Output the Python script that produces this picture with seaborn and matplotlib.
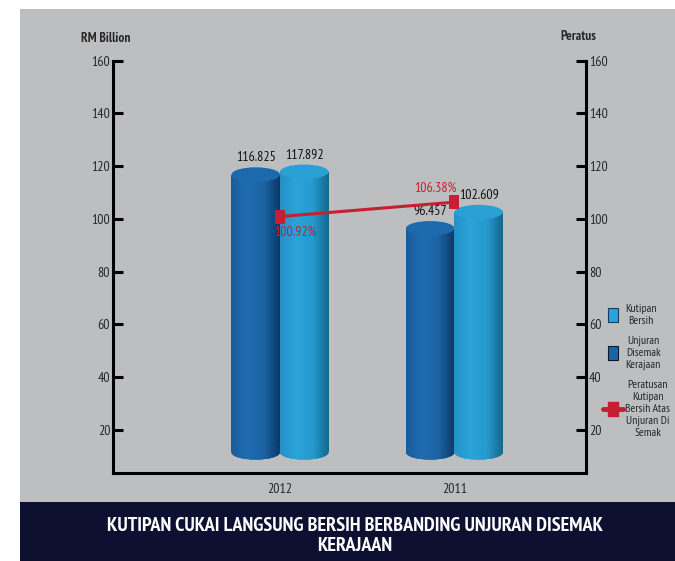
import numpy as np
import pandas as pd
import matplotlib
matplotlib.use("Agg")
import matplotlib.pyplot as plt
import seaborn as sns
from matplotlib import font_manager
from matplotlib.colors import LinearSegmentedColormap
from matplotlib.patches import Ellipse, Rectangle
from matplotlib.lines import Line2D

# data
years = ["2012", "2011"]
unjuran = [116.825, 96.457]     # Unjuran Disemak Kerajaan (RM bilion)
kutipan = [117.892, 102.609]    # Kutipan Bersih (RM bilion)
peratus = [100.92, 106.38]      # Peratusan kutipan atas unjuran (%)
yticks = [20, 40, 60, 80, 100, 120, 140, 160]

sns.set_theme(style="white")
names = {f.name for f in font_manager.fontManager.ttflist}
font = "Liberation Sans"
for cand in ["PT Sans Narrow", "Roboto Condensed", "Barlow Semi Condensed",
             "Asap Condensed", "Liberation Sans Narrow", "Open Sans Condensed"]:
    if cand in names:
        font = cand
        break
plt.rcParams["font.family"] = [font, "DejaVu Sans"]

GREY = "#bdbec0"
NAVY = "#0d1030"
RED = "#c41f33"
BASE = 11.5   # cylinders float above the axis line
EH = 5.5      # ellipse height in data units

cmaps = {
    "Unjuran": LinearSegmentedColormap.from_list("dk", ["#1a5c9c", "#1f6cb0", "#1b63a4", "#0b3866"]),
    "Kutipan": LinearSegmentedColormap.from_list("lt", ["#2490c6", "#2ba4da", "#259bcf", "#14678c"]),
}
tops = {"Unjuran": "#1c69ab", "Kutipan": "#2ba0d5"}

df = pd.DataFrame({
    "Tahun": years * 2,
    "Jenis": ["Unjuran"] * 2 + ["Kutipan"] * 2,
    "Nilai": unjuran + kutipan,
})

fig = plt.figure(figsize=(6.75, 5.61), dpi=100, facecolor="white")
fig.add_artist(Rectangle((20 / 675, 1 - 502 / 561), 655 / 675, 493 / 561,
                         transform=fig.transFigure, facecolor=GREY, edgecolor="none", zorder=-10))
fig.add_artist(Rectangle((20 / 675, 0), 655 / 675, 1 - 502 / 561,
                         transform=fig.transFigure, facecolor=NAVY, edgecolor="none", zorder=-10))

ax = fig.add_axes([113 / 675, 1 - 473 / 561, 473 / 675, (473 - 60.7) / 561])
ax.set_facecolor("none")

sns.barplot(data=df, x="Tahun", y="Nilai", hue="Jenis", order=years,
            hue_order=["Unjuran", "Kutipan"], width=0.556, saturation=1,
            palette=[tops["Unjuran"], tops["Kutipan"]], legend=False, ax=ax)

grad = np.linspace(0, 1, 256).reshape(1, -1)
for bar, val, kind in zip(list(ax.patches), df["Nilai"], df["Jenis"]):
    x0 = bar.get_x()
    w = bar.get_width()
    cx = x0 + w / 2
    z = 2 if kind == "Unjuran" else 3
    bar.set_y(BASE)
    bar.set_height(val - BASE)
    bar.set_edgecolor("none")
    bar.set_zorder(z)
    im = ax.imshow(grad, extent=[x0, x0 + w, BASE, val], cmap=cmaps[kind],
                   aspect="auto", zorder=z)
    im.set_clip_path(bar)
    bot = Ellipse((cx, BASE), w, EH, facecolor=tops[kind], edgecolor="none", zorder=z)
    ax.add_patch(bot)
    im2 = ax.imshow(grad, extent=[x0, x0 + w, BASE - EH / 2, BASE + EH / 2],
                    cmap=cmaps[kind], aspect="auto", zorder=z)
    im2.set_clip_path(bot)
    ax.add_patch(Ellipse((cx, val), w, EH, facecolor=tops[kind], edgecolor="none", zorder=z + 0.5))
    ax.annotate(f"{val:.3f}", (cx, val), xytext=(0, 12), textcoords="offset points",
                ha="center", va="center", fontsize=10, color="#111111", zorder=5)

ax.set_xlim(-0.957, 1.754)
ax.set_ylim(3.7, 160)
ax.set_yticks(yticks)
ax.set_xlabel("")
ax.set_ylabel("")
ax.tick_params(axis="y", direction="in", length=7, width=2.2, pad=2, labelsize=10,
               left=True, color="black")
ax.tick_params(axis="x", length=0, pad=7, labelsize=10)
for s in ["left", "bottom"]:
    ax.spines[s].set_linewidth(2.2)
    ax.spines[s].set_color("black")
ax.spines["top"].set_visible(False)
ax.spines["right"].set_visible(False)

# percentage line on the right axis
ax2 = ax.twinx()
rect_marker = [(-0.36, -0.5), (0.36, -0.5), (0.36, 0.5), (-0.36, 0.5), (-0.36, -0.5)]
xpos = np.arange(len(years))
sns.lineplot(x=xpos, y=peratus, ax=ax2, color=RED, lw=2.2, marker=rect_marker,
             markersize=10, markeredgewidth=0, sort=False)
offsets = [(11, -11.5), (-13.5, 10)]
for i, p in enumerate(peratus):
    ax2.annotate(f"{p:.2f}%", (xpos[i], p), xytext=offsets[i], textcoords="offset points",
                 ha="center", va="center", fontsize=10, color=RED)
ax2.set_ylim(3.7, 160)
ax2.set_xlim(-0.957, 1.754)
ax2.set_yticks(yticks)
ax2.tick_params(axis="y", direction="in", length=7, width=2.2, pad=2, labelsize=10,
                right=True, color="black")
for s in ["left", "top", "bottom"]:
    ax2.spines[s].set_visible(False)
ax2.spines["right"].set_linewidth(2.2)
ax2.spines["right"].set_color("black")

fig.text(106 / 675, 1 - 38 / 561, "RM Billion", ha="center", va="center", fontsize=9.5,
         fontweight="bold")
fig.text(578 / 675, 1 - 37 / 561, "Peratus", ha="center", va="center", fontsize=9.5,
         fontweight="bold")

handles = [
    Line2D([], [], ls="none", marker=rect_marker, ms=9.4, mfc="#2aa3dc", mec="#1a3b5c", mew=0.8),
    Line2D([], [], ls="none", marker=rect_marker, ms=9.4, mfc="#1c64a8", mec="#101828", mew=0.8),
    Line2D([], [], color=RED, lw=3.5, marker=rect_marker, ms=9.5, mfc=RED, mec=RED),
]
labels = ["Kutipan\nBersih", "Unjuran\nDisemak\nKerajaan", "Peratusan\nKutipan\nBersih Atas\nUnjuran Di\nSemak"]
leg = fig.legend(handles, labels, loc="upper left", bbox_to_anchor=(603 / 675, 1 - 304 / 561),
                 frameon=False, fontsize=8.5, handlelength=1.7, handletextpad=0.2,
                 labelspacing=0.8, borderpad=0, borderaxespad=0)
for t in leg.get_texts():
    t.set_multialignment("center")
    t.set_linespacing(1.25)

fig.text(355 / 675, 1 - 536 / 561,
         "KUTIPAN CUKAI LANGSUNG BERSIH BERBANDING UNJURAN DISEMAK\nKERAJAAN",
         ha="center", va="center", fontsize=14.5, color="white", linespacing=1.1,
         fontweight="bold")

fig.savefig("out.png", dpi=100)
